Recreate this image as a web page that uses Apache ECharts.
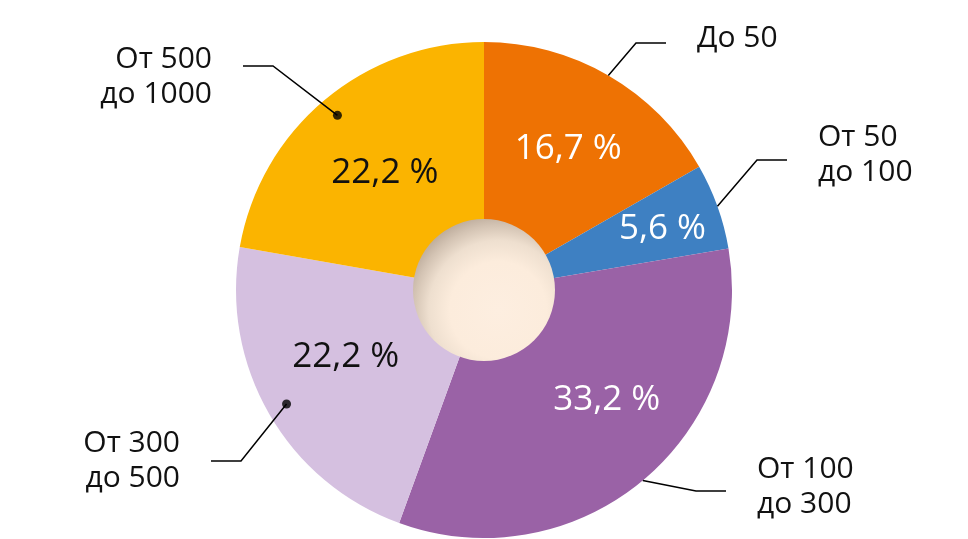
<!DOCTYPE html>
<html><head><meta charset="utf-8">
<script src="https://cdn.jsdelivr.net/npm/echarts@6/dist/echarts.min.js"></script>
<style>html,body{margin:0;padding:0;background:#fff}#c{width:968px;height:539px}</style>
</head><body><div id="c"></div>
<script>
// ---- data ----
const categories = ['До 50', 'От 50\nдо 100', 'От 100\nдо 300', 'От 300\nдо 500', 'От 500\nдо 1000'];
const values = [16.7, 5.6, 33.2, 22.2, 22.2];
const valueLabels = ['16,7 %', '5,6 %', '33,2 %', '22,2 %', '22,2 %'];
const colors = ['#ee7203', '#3e80c2', '#9a62a6', '#d5c0e0', '#fbb400'];
const percentColors = ['#ffffff', '#ffffff', '#ffffff', '#111111', '#111111'];
const dotted = [false, false, false, true, true];

// ---- layout ----
const CX = 484, CY = 290, R = 248, HOLE = 70, DOT_R = 228;
const labelPlace = [
  { x: 697, y: 38, side: 'left', lineY: 43 },
  { x: 818, y: 155, side: 'left', lineY: 160 },
  { x: 757, y: 487, side: 'left', lineY: 491 },
  { x: 180, y: 461, side: 'right', lineY: 461 },
  { x: 212, y: 77, side: 'right', lineY: 66 }
];
const insideShift = [[3, -1], [26, -6], [19, -14], [2, -14], [5, 7]];
const FONT = 'Open Sans';

const total = values.reduce((a, b) => a + b, 0);
const mids = [];
values.reduce((acc, v) => { mids.push(acc + v / 2); return acc + v; }, 0);

const chart = echarts.init(document.getElementById('c'), null, { renderer: 'canvas' });

function labelSeries(radius, pick) {
  return {
    type: 'pie',
    center: [CX, CY],
    radius: radius,
    startAngle: 90,
    clockwise: true,
    silent: true,
    avoidLabelOverlap: false,
    emphasis: { disabled: true },
    z: 5,
    itemStyle: { color: 'rgba(0,0,0,0)' },
    data: values.map((v, i) => ({
      value: v,
      name: categories[i],
      label: { show: pick(i) },
      labelLine: { show: pick(i) }
    })),
    label: {
      position: 'outside',
      formatter: p => categories[p.dataIndex],
      fontFamily: FONT,
      fontSize: 30,
      lineHeight: 35,
      color: '#111111'
    },
    labelLine: {
      show: true,
      length: 20,
      length2: 20,
      lineStyle: { color: '#000000', width: 1.5 }
    },
    labelLayout: function (p) {
      if (!p.labelLinePoints) return {};
      const pl = labelPlace[p.dataIndex];
      const dir = pl.side === 'left' ? 1 : -1;
      const endX = pl.x - dir * 31;
      const elbowX = endX - dir * 30;
      return {
        x: pl.x,
        y: pl.y,
        align: pl.side,
        verticalAlign: 'middle',
        labelLinePoints: [p.labelLinePoints[0], [elbowX, pl.lineY], [endX, pl.lineY]]
      };
    }
  };
}

const option = {
  backgroundColor: '#ffffff',
  animation: false,
  polar: { center: [CX, CY], radius: R },
  angleAxis: { type: 'value', min: 0, max: total, startAngle: 90, clockwise: true, show: false },
  radiusAxis: { type: 'value', min: 0, max: R, show: false },
  series: [
    {
      type: 'pie',
      center: [CX, CY],
      radius: [HOLE, R],
      startAngle: 90,
      clockwise: true,
      silent: true,
      avoidLabelOverlap: false,
      emphasis: { disabled: true },
      data: values.map((v, i) => ({
        value: v,
        name: categories[i],
        itemStyle: { color: colors[i] },
        label: { color: percentColors[i] }
      })),
      label: {
        position: 'inside',
        formatter: p => valueLabels[p.dataIndex],
        fontFamily: FONT,
        fontSize: 35
      },
      labelLine: { show: false },
      labelLayout: p => ({ dx: insideShift[p.dataIndex][0], dy: insideShift[p.dataIndex][1] })
    },
    {
      type: 'pie',
      center: [CX, CY],
      radius: [0, HOLE + 1],
      silent: true,
      emphasis: { disabled: true },
      label: { show: false },
      labelLine: { show: false },
      z: 3,
      data: [{
        value: 1,
        itemStyle: {
          color: {
            type: 'radial', x: 0.6, y: 0.64, r: 0.68,
            colorStops: [
              { offset: 0, color: '#fdeee0' },
              { offset: 0.5, color: '#fcecdc' },
              { offset: 0.72, color: '#eedfcf' },
              { offset: 0.88, color: '#d3c3b3' },
              { offset: 1, color: '#bcab9b' }
            ]
          }
        }
      }]
    },
    labelSeries(R, i => !dotted[i]),
    labelSeries(DOT_R, i => dotted[i]),
    {
      type: 'scatter',
      coordinateSystem: 'polar',
      silent: true,
      z: 10,
      symbolSize: 9,
      itemStyle: { color: '#000000' },
      data: values.map((v, i) => dotted[i] ? [DOT_R, mids[i]] : null).filter(d => d)
    }
  ]
};
chart.setOption(option);
</script>
</body></html>
